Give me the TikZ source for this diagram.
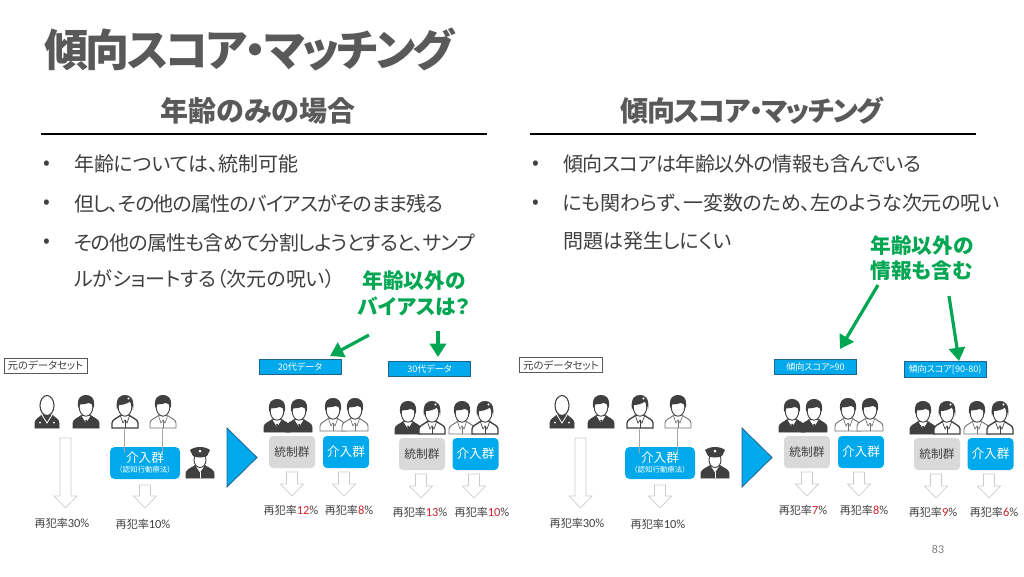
\documentclass[tikz,border=0pt]{standalone}
\usepackage{fontspec}
\setmainfont{Noto Sans CJK JP}[RawFeature=+palt]
\newfontfamily\lat{Carlito}
\usetikzlibrary{arrows.meta}
\definecolor{ink}{HTML}{595959}
\definecolor{txt}{HTML}{404040}
\definecolor{cyanb}{HTML}{00A9EB}
\definecolor{edge}{HTML}{1F6391}
\definecolor{grn}{HTML}{00A651}
\definecolor{dk}{HTML}{404040}
\definecolor{redn}{HTML}{D0252B}
\newcommand{\ls}[1]{\addfontfeatures{LetterSpace=#1}}
\tikzset{
  x=0.75pt,y=-0.75pt,
  lbl/.style={inner sep=0pt,outer sep=0pt},
  titletxt/.style={lbl,anchor=west,text=ink,font=\fontsize{33}{36}\selectfont\bfseries\ls{-5.8}},
  headtxt/.style={lbl,text=ink,font=\fontsize{21}{24}\selectfont\bfseries},
  bodytxt/.style={lbl,anchor=west,text=txt,font=\fontsize{15}{18}\selectfont},
  bullettxt/.style={lbl,text=txt,font=\fontsize{15}{18}\selectfont},
  callout/.style={lbl,text=grn,font=\fontsize{15.5}{18}\selectfont\bfseries},
  rulel/.style={black,line width=1.9pt},
  dsbox/.style={draw=ink,fill=white,line width=0.5pt,minimum width=62pt,minimum height=11pt,inner sep=0pt,text=txt,font=\fontsize{7.8}{8}\selectfont},
  hdbox/.style={draw=edge,fill=cyanb,line width=0.6pt,minimum width=61.5pt,minimum height=11.5pt,inner sep=0pt,text=white,font=\fontsize{6.8}{8}\selectfont},
  greybox/.style={fill=black!15,rounded corners=3pt,minimum width=34.5pt,minimum height=24pt,inner sep=0pt,text=txt,font=\fontsize{8.8}{10}\selectfont},
  bluebox/.style={fill=cyanb,rounded corners=3pt,minimum width=34.5pt,minimum height=24pt,inner sep=0pt,text=white,font=\fontsize{9.5}{10}\selectfont},
  mainblue/.style={fill=cyanb,rounded corners=3.5pt,minimum width=52.5pt,minimum height=24pt,inner sep=0pt},
  ratetxt/.style={lbl,text=txt,font=\fontsize{8.3}{10}\selectfont},
  greenarr/.style={grn,line width=2.4pt,-{Triangle[length=10pt,width=12pt]}},
  feed/.style={black!35,line width=0.6pt},
  bigtri/.style={fill=cyanb,draw=edge,line width=0.6pt},
  pics/hollow/.style={code={
    \draw[black!20,fill=white,line width=0.5pt]
      (-5.5,0) -- (5.5,0) -- (5.5,#1-12) -- (11.5,#1-12) -- (0,#1) -- (-11.5,#1-12) -- (-5.5,#1-12) -- cycle;}},
  % person: {body fill}{body stroke}{body line width}
  pics/person/.style n args={3}{code={
    \draw[fill=#1,draw=#2,line width=#3]
      (-13,33) -- (-13,28) .. controls (-12.5,24) and (-8,23.5) .. (-4,20) -- (4,20)
      .. controls (8,23.5) and (12.5,24) .. (13,28) -- (13,33) -- cycle;
    \draw[white,fill=white,line width=0.3pt] (-4.5,21) -- (0,27) -- (4.5,21) -- cycle;
    \draw[#2,line width=0.5pt] (-4.5,21) -- (-2,28) -- (0,25) -- (2,28) -- (4.5,21);
    \draw[#2,line width=0.5pt] (0,25) -- (0,33);
    \draw[fill=white,draw=dk,line width=0.7pt] (0,12) ellipse [x radius=6.8,y radius=9.2];
    \fill[dk] (-7.8,13) .. controls (-9.5,2) and (-4,0) .. (0,0) .. controls (4,0) and (9.5,2) .. (7.8,13)
      .. controls (7,10) and (6,8.5) .. (3,8) .. controls (0,9.5) and (-4,9) .. (-6,9.5) .. controls (-6.6,10.5) and (-7,12) .. (-7.8,13) -- cycle;
  }},
  pics/woman/.style={code={
    \draw[fill=white,draw=dk,line width=1pt]
      (-13,33) -- (-13,28) .. controls (-12.5,24) and (-8,23.5) .. (-4,20) -- (4,20)
      .. controls (8,23.5) and (12.5,24) .. (13,28) -- (13,33) -- cycle;
    \draw[dk,line width=0.5pt] (-4.5,21) -- (-2,28) -- (0,25) -- (2,28) -- (4.5,21);
    \draw[dk,line width=0.5pt] (0,25) -- (0,33);
    \draw[fill=white,draw=dk,line width=0.7pt] (0,12) ellipse [x radius=6.8,y radius=9.2];
    \fill[dk] (-8,15) .. controls (-10,2) and (-4,0) .. (0,0) .. controls (4,0) and (10,2) .. (8,15)
      .. controls (7.5,11) and (6.5,9) .. (5,6.5) .. controls (2,9) and (-3,10) .. (-6,10) .. controls (-6.8,11.5) and (-7.2,13) .. (-8,15) -- cycle;
    \fill[white] (3.5,3.5) circle (1.1);
  }},
  pics/elder/.style={code={
    \draw[fill=dk,draw=dk,line width=0.7pt]
      (-12,33) -- (-12,28) .. controls (-11.5,24) and (-8,23) .. (-5,20) -- (5,20)
      .. controls (8,23) and (11.5,24) .. (12,28) -- (12,33) -- cycle;
    \draw[white,line width=0.6pt] (-5,20) -- (0,28) -- (5,20);
    \fill[white] (-7,27.5) circle (1) (7,27.5) circle (1);
    \draw[fill=white,draw=dk,line width=0.8pt] (0,10.5) ellipse [x radius=7,y radius=10];
  }},
  pics/officer/.style={code={
    \draw[fill=dk,draw=dk,line width=0.7pt]
      (-14,31) -- (-14,26) .. controls (-13,22) and (-8,21) .. (-4,18) -- (4,18)
      .. controls (8,21) and (13,22) .. (14,26) -- (14,31) -- cycle;
    \draw[white,fill=white,line width=0.3pt] (-4,19) -- (0,25) -- (4,19) -- cycle;
    \draw[white,line width=0.4pt] (0,25) -- (0,31);
    \draw[fill=white,draw=dk,line width=0.7pt] (0,13) ellipse [x radius=6,y radius=7.5];
    \fill[dk] (-10,3) .. controls (-5,-1) and (5,-1) .. (10,3) -- (7,9) .. controls (3,11) and (-3,11) .. (-7,9) -- cycle;
    \fill[white] (0,4) circle (1.5);
  }},
}
\newcommand{\rate}[1]{再犯率{\lat\fontsize{9.3}{10}\selectfont{\color{redn}#1}\%}}
\newcommand{\ratep}[1]{再犯率{\lat\fontsize{9.3}{10}\selectfont #1\%}}
\newcommand{\panel}[2]{%
\begin{scope}[xshift=#1*0.75pt]
  \pic at (47,395) {elder};
  \pic at (86,395) {person={dk}{dk}{0.7pt}};
  \pic at (125,395) {woman};
  \pic at (163,395) {person={white}{black!55}{0.7pt}};
  \pic at (65.5,438) {hollow=70};
  \node[mainblue] (mb#2) at (145,463) {};
  \coordinate (f1#2) at (124,428); \coordinate (f1e#2) at (124,453);
  \coordinate (f2#2) at (162,428); \coordinate (f2e#2) at (162,453);
  \draw[feed] (f1#2) -- (f1e#2);
  \draw[feed] (f2#2) -- (f2e#2);
  \node[lbl,text=white,font=\fontsize{9.5}{10}\selectfont] (mbt#2) at (145,458) {介入群};
  \node[lbl,text=white,font=\fontsize{5.6}{6}\selectfont] (mbs#2) at (145,470) {（認知行動療法）};
  \pic at (145,485) {hollow=23};
  \pic at (200,447) {officer};
  \draw[bigtri] (227,428) -- (257,457.5) -- (227,487) -- cycle;
  \pic at (277,399) {person={dk}{dk}{0.7pt}};
  \pic at (299,399) {person={dk}{dk}{0.7pt}};
  \pic at (333,398) {person={white}{black!55}{0.7pt}};
  \pic at (355,398) {person={white}{black!55}{0.7pt}};
  \pic at (408,401) {person={dk}{dk}{0.7pt}};
  \pic at (432,401) {woman};
  \pic at (462,401) {person={white}{black!55}{0.7pt}};
  \pic at (485,401) {woman};
  \node[greybox] (g1#2) at (292,452) {統制群};
  \node[bluebox] (b1#2) at (346,452) {介入群};
  \node[greybox] (g2#2) at (422,454) {統制群};
  \node[bluebox] (b2#2) at (475.5,454) {介入群};
  \pic at (292,472) {hollow=24};
  \pic at (344,472) {hollow=24};
  \pic at (421,474) {hollow=24};
  \pic at (474,474) {hollow=24};
\end{scope}}
\begin{document}
\begin{tikzpicture}
\useasboundingbox (0,0) rectangle (1024,576);
\fill[white] (0,0) rectangle (1024,576);
\node[titletxt] (title) at (44,49) {傾向スコア・マッチング};
\node[headtxt] (hl) at (258,111) {年齢のみの場合};
\node[headtxt] (hr) at (752,111) {\ls{-5.5}傾向スコア・マッチング};
\coordinate (r1a) at (41,134); \coordinate (r1b) at (487,134);
\coordinate (r2a) at (530,134); \coordinate (r2b) at (976,134);
\draw[rulel] (r1a) -- (r1b);
\draw[rulel] (r2a) -- (r2b);
\node[bullettxt] (bl1) at (47,165) {•};
\node[bullettxt] (bl2) at (47,204) {•};
\node[bullettxt] (bl3) at (47,243) {•};
\node[bodytxt] (tl1) at (74,164) {年齢については、統制可能};
\node[bodytxt] (tl2) at (74,204) {\ls{-4.5}但し、その他の属性のバイアスがそのまま残る};
\node[bodytxt] (tl3) at (74,243) {\ls{-4}その他の属性も含めて分割しようとすると、サンプ};
\node[bodytxt] (tl4) at (74,279) {ルがショートする（次元の呪い）};
\node[bullettxt] (br1) at (536,165) {•};
\node[bullettxt] (br2) at (536,204) {•};
\node[bodytxt] (tr1) at (563,164) {\ls{-2.4}傾向スコアは年齢以外の情報も含んでいる};
\node[bodytxt] (tr2) at (563,203) {\ls{-1.2}にも関わらず、一変数のため、左のような次元の呪い};
\node[bodytxt] (tr3) at (563,241) {問題は発生しにくい};
\node[callout] (c1a) at (414,281) {年齢以外の};
\node[callout] (c1b) at (414,306) {バイアスは？};
\node[callout] (c2a) at (922,246) {年齢以外の};
\node[callout] (c2b) at (922,271) {情報も含む};
\panel{0}{l}
\panel{515}{r}
\node[dsbox] (ds1) at (45.5,365.5) {元のデータセット};
\node[dsbox] (ds2) at (561,365) {元のデータセット};
\node[hdbox] (h20) at (300,367) {20代データ};
\node[hdbox] (h30) at (429.5,369) {30代データ};
\node[hdbox] (hs1) at (815.5,367) {傾向スコア>90};
\node[hdbox] (hs2) at (945,369.5) {傾向スコア[90-80)};
\coordinate (a1s) at (369,335); \coordinate (a1e) at (330,356);
\coordinate (a2s) at (438,331); \coordinate (a2e) at (438,357);
\coordinate (a3s) at (878,285); \coordinate (a3e) at (840,349);
\coordinate (a4s) at (949,296); \coordinate (a4e) at (959,361);
\draw[greenarr] (a1s) -- (a1e);
\draw[greenarr] (a2s) -- (a2e);
\draw[greenarr] (a3s) -- (a3e);
\draw[greenarr] (a4s) -- (a4e);
\node[ratetxt] (p1) at (62,523) {\ratep{30}};
\node[ratetxt] (p2) at (143,524) {\ratep{10}};
\node[ratetxt] (p3) at (291,510) {\rate{12}};
\node[ratetxt] (p4) at (349,510) {\rate{8}};
\node[ratetxt] (p5) at (420,512) {\rate{13}};
\node[ratetxt] (p6) at (482,512) {\rate{10}};
\node[ratetxt] (q1) at (577,523) {\ratep{30}};
\node[ratetxt] (q2) at (658,524) {\ratep{10}};
\node[ratetxt] (q3) at (803,510) {\rate{7}};
\node[ratetxt] (q4) at (864,510) {\rate{8}};
\node[ratetxt] (q5) at (933,512) {\rate{9}};
\node[ratetxt] (q6) at (994,512) {\rate{6}};
\node[lbl,text=black!50,font=\lat\fontsize{9}{10}\selectfont] (pg) at (938,549) {83};
\end{tikzpicture}
\end{document}
